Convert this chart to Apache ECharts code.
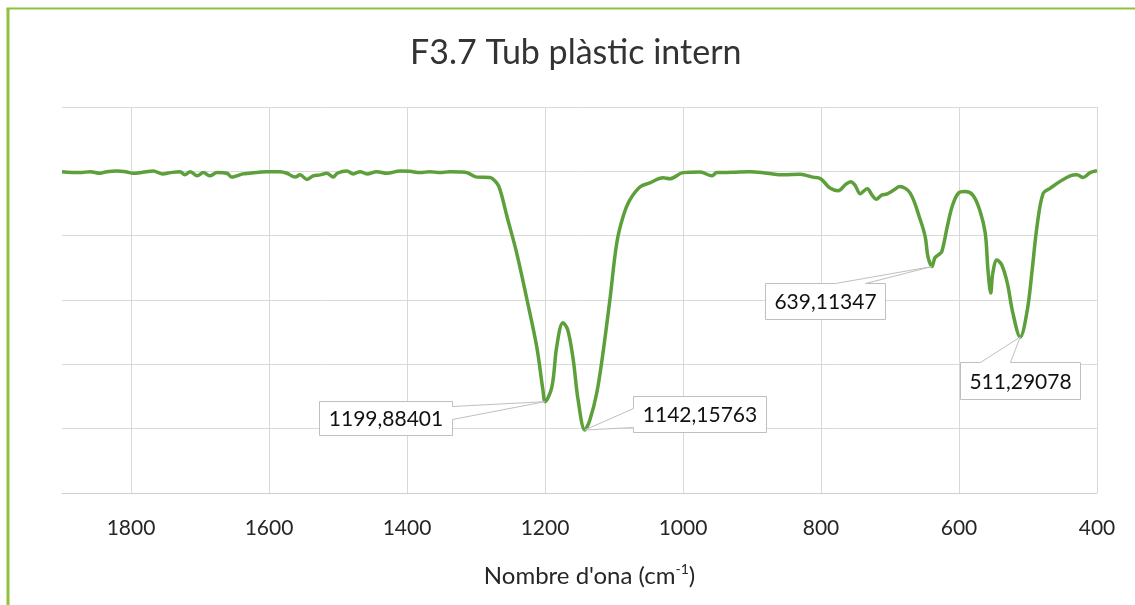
<!DOCTYPE html>
<html>
<head>
<meta charset="utf-8">
<script src="https://cdn.jsdelivr.net/npm/echarts@6/dist/echarts.min.js"></script>
<style>
  html, body { margin: 0; padding: 0; background: #fff; }
  #chart { width: 1135px; height: 605px; }
</style>
</head>
<body>
<div id="chart"></div>
<script>
// ---- data ----
const wavenumbers = [
  1900, 1874, 1859, 1845, 1835, 1820, 1806, 1797, 1783, 1768, 1754, 1743, 1729, 1722, 1714, 1704,
  1695, 1686, 1675, 1661, 1654, 1647, 1638, 1628, 1615, 1603, 1584, 1574, 1562, 1555, 1545, 1536,
  1526, 1516, 1507, 1501, 1487, 1478, 1468, 1458, 1444, 1429, 1410, 1396, 1381, 1367, 1352, 1338,
  1323, 1313, 1299, 1280, 1270, 1265, 1255, 1241, 1226, 1212, 1203, 1199.88401, 1190, 1183, 1174,
  1167, 1159, 1152, 1142.15763, 1135, 1125, 1116, 1106, 1096, 1087, 1077, 1062, 1048, 1029, 1019,
  1000, 975, 958, 951, 928, 903, 878, 855, 830, 812, 801, 787, 775, 765, 757, 751, 743, 739, 733,
  726, 720, 712, 704, 693, 686, 671, 657, 649, 645, 639.11347, 635, 630, 625, 617, 610, 601, 591,
  580, 570, 562, 558, 554, 551, 545, 538, 530, 522, 511.29078, 501, 494, 487, 478, 468, 454, 439,
  429, 420, 410, 400
];
const transmittance = [
  99.9, 99.6, 99.9, 99.4, 99.9, 100.1, 99.8, 99.4, 99.7, 100.1, 99.2, 99.6, 99.9, 98.9, 99.9, 98.6,
  99.6, 98.6, 99.6, 99.4, 98.2, 98.6, 99.2, 99.4, 99.7, 99.9, 99.9, 99.4, 98.2, 98.9, 97.5, 98.6,
  98.9, 99.4, 98.2, 99.4, 100.1, 99.2, 99.9, 99.2, 99.9, 99.4, 100.1, 100.0, 99.6, 99.9, 99.6, 99.9,
  99.8, 99.6, 98.2, 98.1, 96.4, 94.2, 85.9, 74.6, 60.0, 45.5, 32.0, 28.4, 33.0, 45.5, 52.9,
  50.7, 41.3, 28.9, 19.6, 22.7, 31.1, 43.5, 60.0, 77.7, 85.8, 91.1, 95.2, 96.4, 98.0, 97.7,
  99.6, 99.8, 98.6, 99.6, 99.7, 99.9, 99.4, 98.9, 99.1, 98.2, 97.8, 94.8, 94.0, 95.8, 96.8, 95.8, 93.0, 93.7, 94.6,
  92.6, 91.3, 92.6, 93.0, 94.4, 95.3, 93.3, 85.5, 79.7, 73.5, 70.4, 73.1, 74.0, 75.0, 82.8, 89.0, 93.2, 93.7,
  92.6, 88.0, 80.8, 69.3, 62.2, 68.4, 72.4, 70.9, 65.3, 56.0, 48.5, 56.9, 69.3, 82.8, 93.2, 94.7, 96.8, 98.6,
  98.9, 98.1, 99.6, 100.2
];
const xTicks = [400, 600, 800, 1000, 1200, 1400, 1600, 1800];
const peakWavenumbers = [1199.88401, 1142.15763, 639.11347, 511.29078];
const titleText = 'F3.7 Tub plàstic intern';

// ---- presentation (callout placement relative to the peak point) ----
const calloutLayout = [
  { dx: -226, dy: -1,  w: 133, h: 34, side: 'right', a: 5,   b: 18 },
  { dx: 48,   dy: -34, w: 133, h: 36, side: 'left',  a: 12,  b: 31 },
  { dx: -167, dy: 16,  w: 120, h: 36, side: 'top',   a: 70,  b: 100 },
  { dx: -60,  dy: 25,  w: 120, h: 37, side: 'top',   a: 20,  b: 50 }
];

const FONT = 'Lato, "Open Sans", sans-serif';
const seriesData = wavenumbers.map((w, i) => [w, transmittance[i]]);

const chart = echarts.init(document.getElementById('chart'), null, { renderer: 'canvas' });

chart.setOption({
  backgroundColor: '#ffffff',
  animation: false,
  title: {
    text: titleText,
    left: 405,
    top: 31,
    textStyle: { fontFamily: FONT, fontSize: 34, fontWeight: 'normal', color: '#333333' }
  },
  grid: { left: 62, right: 38, top: 107, bottom: 112, containLabel: false },
  xAxis: {
    type: 'value',
    inverse: true,
    min: 400,
    max: 1900,
    interval: 200,
    name: '{base|Nombre d\'ona (cm}{sup|-1}{base|)}',
    nameLocation: 'middle',
    nameGap: 69,
    nameTextStyle: {
      fontFamily: FONT, fontSize: 24, color: '#262626', padding: [0, 0, 0, 20],
      rich: {
        base: { fontFamily: FONT, fontSize: 24, color: '#262626' },
        sup: { fontFamily: FONT, fontSize: 14, color: '#262626', verticalAlign: 'top', padding: [0, 0, 14, 0] }
      }
    },
    axisLine: { show: true, lineStyle: { color: '#d0d0d0', width: 1 } },
    axisTick: { show: false, customValues: xTicks },
    axisLabel: {
      customValues: xTicks,
      margin: 25,
      formatter: v => String(v),
      fontFamily: FONT, fontSize: 21, color: '#262626'
    },
    splitLine: { show: true, lineStyle: { color: '#d9d9d9', width: 1 } }
  },
  yAxis: {
    type: 'value',
    min: 0,
    max: 120,
    interval: 20,
    axisLine: { show: false },
    axisTick: { show: false },
    axisLabel: { show: false },
    splitLine: { show: true, lineStyle: { color: '#d9d9d9', width: 1 } }
  },
  series: [{
    type: 'line',
    data: seriesData,
    smooth: 0.35,
    showSymbol: false,
    symbol: 'none',
    lineStyle: { color: '#5c9f3b', width: 3.5 },
    z: 5
  }]
});

// callouts anchored to the peaks through the chart's own scales
const graphics = [
  { type: 'line', shape: { x1: 8, y1: 8, x2: 8, y2: 605 }, style: { stroke: '#8fc13e', lineWidth: 3 }, z: 100 },
  { type: 'line', shape: { x1: 6.5, y1: 8.5, x2: 1135, y2: 8.5 }, style: { stroke: '#8fc13e', lineWidth: 2 }, z: 100 }
];

peakWavenumbers.forEach((wn, i) => {
  const idx = wavenumbers.indexOf(wn);
  const val = transmittance[idx];
  const p = chart.convertToPixel({ gridIndex: 0 }, [wn, val]);
  const L = calloutLayout[i];
  const x0 = Math.round(p[0] + L.dx) + 0.5, y0 = Math.round(p[1] + L.dy) + 0.5;
  const x1 = x0 + L.w, y1 = y0 + L.h;
  let pts;
  if (L.side === 'right') {
    pts = [[x0, y0], [x1, y0], [x1, y0 + L.a], p, [x1, y0 + L.b], [x1, y1], [x0, y1]];
  } else if (L.side === 'left') {
    pts = [[x0, y0], [x1, y0], [x1, y1], [x0, y1], [x0, y0 + L.b], p, [x0, y0 + L.a]];
  } else {
    pts = [[x0, y0], [x0 + L.a, y0], p, [x0 + L.b, y0], [x1, y0], [x1, y1], [x0, y1]];
  }
  graphics.push({
    type: 'polygon', shape: { points: pts },
    style: { fill: '#ffffff', stroke: '#bfbfbf', lineWidth: 1 }, z: 50
  });
  graphics.push({
    type: 'text',
    style: {
      text: String(wn).replace('.', ','),
      x: (x0 + x1) / 2, y: (y0 + y1) / 2 + 1,
      textAlign: 'center', textVerticalAlign: 'middle',
      fontFamily: FONT, fontSize: 21, fill: '#111111'
    },
    z: 51
  });
});

chart.setOption({ graphic: graphics });
</script>
</body>
</html>
